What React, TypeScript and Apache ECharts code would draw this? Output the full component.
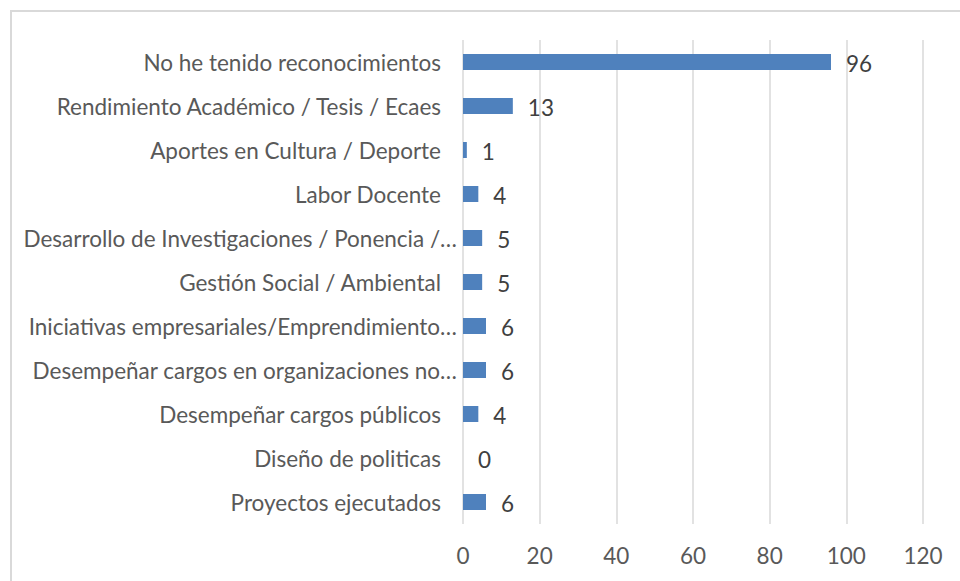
import React, { useEffect, useRef } from "react";
import * as echarts from "echarts";

const categories: string[] = [
  "No he tenido reconocimientos",
  "Rendimiento Académico / Tesis / Ecaes",
  "Aportes en Cultura / Deporte",
  "Labor Docente",
  "Desarrollo de Investigaciones / Ponencia /…",
  "Gestión Social / Ambiental",
  "Iniciativas empresariales/Emprendimiento…",
  "Desempeñar cargos en organizaciones no…",
  "Desempeñar cargos públicos",
  "Diseño de politicas",
  "Proyectos ejecutados",
];

const values: number[] = [96, 13, 1, 4, 5, 5, 6, 6, 4, 0, 6];

const xMin = 0;
const xMax = 120;
const xStep = 20;

const FONT = "Lato, 'Open Sans', sans-serif";

export default function App() {
  const ref = useRef<HTMLDivElement>(null);

  useEffect(() => {
    if (!ref.current) return;
    const chart = echarts.init(ref.current, null, { renderer: "svg" });
    chart.setOption({
      animation: false,
      backgroundColor: "#ffffff",
      textStyle: { fontFamily: FONT },
      graphic: [
        {
          type: "rect",
          shape: { x: 11, y: 11, width: 1000, height: 1000 },
          style: { fill: "none", stroke: "#d9d9d9", lineWidth: 2 },
          silent: true,
        },
      ],
      grid: { left: 463, right: 37, top: 40, bottom: 57, containLabel: false },
      xAxis: {
        type: "value",
        min: xMin,
        max: xMax,
        interval: xStep,
        axisLine: { show: false },
        axisTick: { show: false },
        splitLine: { show: true, lineStyle: { color: "#d9d9d9", width: 1.5 } },
        axisLabel: {
          color: "#595959",
          fontSize: 22.5,
          fontFamily: FONT,
          margin: 20,
        },
      },
      yAxis: {
        type: "category",
        data: categories,
        inverse: true,
        axisLine: { show: false },
        axisTick: { show: false },
        splitLine: { show: false },
        axisLabel: {
          color: "#595959",
          fontSize: 22.5,
          fontFamily: FONT,
          margin: 6,
          formatter: (v: string) => (v.endsWith("…") ? `{t|${v}}` : `{n|${v}}`),
          rich: {
            n: { color: "#595959", fontSize: 22.5, fontFamily: FONT, padding: [0, 16, 0, 0] },
            t: { color: "#595959", fontSize: 22.5, fontFamily: FONT },
          },
        },
      },
      series: [
        {
          type: "bar",
          data: values,
          barWidth: 16,
          itemStyle: { color: "#4f81bd" },
          label: {
            show: true,
            position: "right",
            distance: 15,
            offset: [0, 1],
            color: "#404040",
            fontSize: 22.5,
            fontFamily: FONT,
          },
        },
      ],
    });
    return () => chart.dispose();
  }, []);

  return (
    <div
      ref={ref}
      style={{ position: "fixed", left: 0, top: 0, width: 960, height: 581 }}
    />
  );
}
